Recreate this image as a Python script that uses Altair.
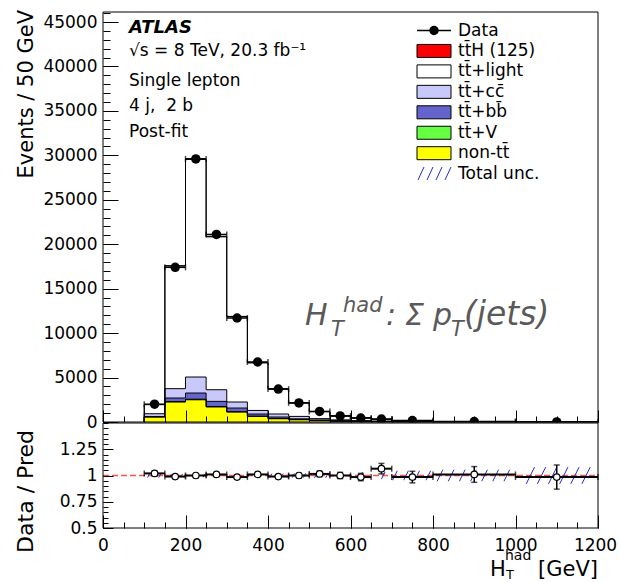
import math
import altair as alt
import numpy as np
import pandas as pd

# ---------------- values ----------------
bin_edges = [100, 150, 200, 250, 300, 350, 400, 450, 500, 550, 600, 650, 700, 800, 1000, 1200]
data_events = [2000, 17400, 29600, 21100, 11700, 6750, 3700, 2150, 1190, 680, 450, 330, 160, 55, 12]

non_tt   = [560, 2250, 2500, 1690, 1120, 630, 370, 260, 160, 100, 65, 45, 25, 9, 2]
tt_V     = [15, 45, 65, 55, 40, 28, 18, 12, 8, 5, 3.5, 2.5, 1.5, 0.6, 0.15]
tt_bb    = [45, 405, 695, 575, 410, 242, 172, 88, 60, 38, 25, 17, 10, 3.5, 0.9]
tt_cc    = [310, 1050, 1800, 1310, 680, 400, 340, 270, 150, 95, 60, 40, 22, 8, 2]
tt_light = [1025, 13800, 24480, 17200, 9590, 5350, 2820, 1510, 785, 437, 300, 203, 102, 33, 7]
ttH      = [5, 30, 60, 55, 40, 28, 18, 12, 8, 5, 3.5, 2.5, 1.5, 0.6, 0.2]

ratio_vals = [1.02, 0.99, 1.0, 1.01, 0.985, 1.01, 0.99, 1.0, 1.015, 1.0, 0.985, 1.065, 0.985, 1.01, 0.985]
ratio_errs = [0.022, 0.008, 0.006, 0.007, 0.009, 0.012, 0.016, 0.02, 0.026, 0.03, 0.035, 0.05, 0.055, 0.075, 0.115]
unc_half   = [0.02, 0.015, 0.015, 0.015, 0.015, 0.015, 0.018, 0.02, 0.022, 0.025, 0.032, 0.035, 0.045, 0.055, 0.08]

comp_names  = ["non-tt\u0304", "tt\u0304+V", "tt\u0304+bb\u0304", "tt\u0304+cc\u0304", "tt\u0304+light", "tt\u0304H (125)"]
comp_values = [non_tt, tt_V, tt_bb, tt_cc, tt_light, ttH]
comp_colors = ["#FFFF00", "#66FF44", "#6464CD", "#C8C8FA", "#FFFFFF", "#FF0000"]

legend_labels = ["Data", "tt\u0304H (125)", "tt\u0304+light", "tt\u0304+cc\u0304", "tt\u0304+bb\u0304",
                 "tt\u0304+V", "non-tt\u0304", "Total unc."]
legend_colors = ["#FF0000", "#FFFFFF", "#C8C8FA", "#6464CD", "#66FF44", "#FFFF00"]

x_major = [0, 200, 400, 600, 800, 1000, 1200]
x_minor = list(range(0, 1201, 50))
ytop_major = list(range(0, 45001, 5000))
ytop_minor = list(range(0, 46001, 1000))
yrat_major = [0.5, 0.75, 1.0, 1.25]
yrat_minor = [round(0.5 + 0.05 * i, 2) for i in range(21)]

FONT = "DejaVu Sans"
W = 495            # plot width (page x 103 .. 598)
TOP_B = 410        # bottom of the main pad (page y 422)
RAT_T = 411        # top of the ratio pad
RAT_B = 516        # bottom of the ratio pad (page y 528)

# ---------------- tables ----------------
nb = len(data_events)
lo = bin_edges[:-1]
hi = bin_edges[1:]
centers = [(a + b) / 2 for a, b in zip(lo, hi)]

stack_rows, outline_rows = [], []
cum = np.zeros(nb)
for name, vals, col in zip(comp_names, comp_values, comp_colors):
    base = cum.copy()
    cum = cum + np.array(vals, dtype=float)
    for i in range(nb):
        stack_rows.append(dict(comp=name, lo=lo[i], hi=hi[i], y0=base[i], y1=cum[i], color=col))
    pts = [(bin_edges[0], 0.0)] + [(bin_edges[i], cum[i]) for i in range(nb)] + \
          [(bin_edges[-1], cum[-1]), (bin_edges[-1], 0.0)]
    for k, (xx, yy) in enumerate(pts):
        outline_rows.append(dict(comp=name, k=k, x=xx, y=yy))
stack_df = pd.DataFrame(stack_rows)
outline_df = pd.DataFrame(outline_rows)

pts_df = pd.DataFrame(dict(c=centers, lo=lo, hi=hi, y=data_events))
caps_df = pd.DataFrame(dict(x=list(lo) + list(hi), y=data_events + data_events))

rat_df = pd.DataFrame(dict(c=centers, lo=lo, hi=hi, r=ratio_vals, e=ratio_errs))
rat_df["rlo"] = rat_df["r"] - rat_df["e"]
rat_df["rhi"] = rat_df["r"] + rat_df["e"]
rcaps_h = pd.DataFrame(dict(x=list(lo) + list(hi), y=ratio_vals + ratio_vals))
rcaps_v = pd.DataFrame(dict(x=centers + centers,
                            y=list(rat_df["rlo"]) + list(rat_df["rhi"])))

hatch_rows = []
spacing = 27.0
for i in range(nb):
    u = unc_half[i]
    d = 252.0 * u
    p = math.ceil(lo[i] / spacing) * spacing
    while p + d <= hi[i]:
        hatch_rows.append(dict(x=p, x2=p + d, y=1 - u, y2=1 + u))
        p += spacing
hatch_df = pd.DataFrame(hatch_rows)

one = pd.DataFrame({"a": [0]})
one_t = pd.DataFrame({"a": [0], "b": [20000]})
one_r = pd.DataFrame({"a": [0], "b": [1.0]})

# ---------------- scales / encodings ----------------
XS = alt.Scale(domain=[0, 1200], nice=False, zero=False)
YT = alt.Scale(domain=[0, 46125], range=[TOP_B, 0], nice=False, zero=False)
YR = alt.Scale(domain=[0.5, 1.5], range=[RAT_B, RAT_T], nice=False, zero=False)


def X(f, axis=None):
    return alt.X(f, type="quantitative", scale=XS, axis=axis, title=None)


def Yt(f, axis=None):
    return alt.Y(f, type="quantitative", scale=YT, axis=axis, title=None)


def Yr(f, axis=None):
    return alt.Y(f, type="quantitative", scale=YR, axis=axis, title=None)


def ax(orient, values, size, labels=False, shift=0, **kw):
    return alt.Axis(orient=orient, values=values, tickSize=size, offset=-size - shift,
                    domain=False, grid=False, labels=labels, tickColor="black", tickWidth=1,
                    title=None, zindex=1, labelFont=FONT, labelColor="black", **kw)


def txt(text, x, y, size=17, **kw):
    return alt.Chart(one).mark_text(text=text, align=kw.pop("align", "left"),
                                    baseline=kw.pop("baseline", "alphabetic"),
                                    font=FONT, fontSize=size, color=kw.pop("color", "black"),
                                    **kw).encode(x=alt.value(x), y=alt.value(y))


def frame(y0, y1):
    return alt.Chart(one).mark_rect(fillOpacity=0, stroke="black", strokeWidth=1).encode(
        x=alt.value(0), x2=alt.value(W), y=alt.value(y0), y2=alt.value(y1))


# ---------------- main pad ----------------
fills = alt.Chart(stack_df).mark_rect(strokeWidth=0).encode(
    x=X("lo"), x2="hi", y=Yt("y0"), y2="y1", color=alt.Color("color:N", scale=None))
outlines = alt.Chart(outline_df).mark_line(interpolate="step-after", color="black",
                                           strokeWidth=1).encode(
    x=X("x"), y=Yt("y"), detail="comp:N", order="k:Q")
dbar = alt.Chart(pts_df).mark_rule(color="black", strokeWidth=1.5).encode(
    x=X("lo"), x2="hi", y=Yt("y"))
dcap = alt.Chart(caps_df).mark_tick(orient="vertical", size=6, thickness=1.5,
                                    color="black").encode(x=X("x"), y=Yt("y"))
dpts = alt.Chart(pts_df).mark_circle(size=90, color="black", opacity=1).encode(
    x=X("c"), y=Yt("y"))
# white strip that clips the markers at the pad edge, as ROOT does
mask = alt.Chart(one).mark_rect(color="white", opacity=1).encode(
    x=alt.value(-1), x2=alt.value(W + 6), y=alt.value(TOP_B + 0.5), y2=alt.value(RAT_T + 8))

top_axes_major = alt.Chart(one_t).mark_point(opacity=0, size=1).encode(
    x=X("a", ax("bottom", x_major, 12, shift=RAT_B - TOP_B)),
    y=Yt("b", ax("left", ytop_major, 15, labels=True, labelFontSize=17, labelPadding=6,
                  labelOverlap=False, format="d")))
top_axes_minor = alt.Chart(one_t).mark_point(opacity=0, size=1).encode(
    x=X("a", ax("bottom", x_minor, 6, shift=RAT_B - TOP_B)),
    y=Yt("b", ax("left", ytop_minor, 7)))

anchor = alt.Chart(one).mark_rule(strokeOpacity=0, strokeWidth=0.1).encode(
    x=alt.value(-103), y=alt.value(-12), y2=alt.value(-11))

# legend
leg_df = pd.DataFrame({"label": legend_labels, "i": list(range(len(legend_labels)))})
leg_text = alt.Chart(leg_df).mark_text(align="left", baseline="middle", font=FONT, fontSize=17,
                                       color="black").transform_calculate(
    py="18.5 + 20.45 * datum.i").encode(
    x=alt.value(355), y=alt.Y("py:Q", scale=None, axis=None), text="label:N")
box_df = pd.DataFrame({"color": legend_colors, "i": list(range(1, 7))})
leg_box = alt.Chart(box_df).mark_rect(stroke="black", strokeWidth=1).transform_calculate(
    y0="12.0 + 20.45 * datum.i", y1="25.0 + 20.45 * datum.i").encode(
    x=alt.value(314), x2=alt.value(348),
    y=alt.Y("y0:Q", scale=None, axis=None), y2="y1:Q",
    color=alt.Color("color:N", scale=None))
leg_line = alt.Chart(one).mark_rule(color="black", strokeWidth=1.5).encode(
    x=alt.value(314), x2=alt.value(348), y=alt.value(18.5))
leg_dot = alt.Chart(one).mark_circle(size=90, color="black", opacity=1).encode(
    x=alt.value(331), y=alt.value(18.5))
leg_hatch_df = pd.DataFrame({"j": [0, 1, 2, 3]})
leg_hatch = alt.Chart(leg_hatch_df).mark_rule(color="#2828D8", strokeWidth=1).transform_calculate(
    hx="315 + 9 * datum.j", hx2="321 + 9 * datum.j").encode(
    x=alt.X("hx:Q", scale=None, axis=None), x2="hx2:Q",
    y=alt.value(168), y2=alt.value(155))

NB = "\u00a0"
top_texts = [
    alt.Chart(one).mark_text(text="ATLAS", align="left", baseline="alphabetic", font=FONT,
                             fontSize=18, fontWeight="bold", fontStyle="italic",
                             color="black").encode(x=alt.value(26), y=alt.value(21)),
    txt("\u221as = 8 TeV, 20.3 fb\u207b\u00b9", 26, 44),
    txt("Single lepton", 26, 74),
    txt("4 j," + NB + NB + "2 b", 26, 99),
    txt("Post-fit", 26, 125),
    txt("Events / 50 GeV", -70, -2, size=21, angle=270, align="right"),
]
GRAY = "#5a5a5a"
anno = [
    txt("H", 202, 313, size=30, fontStyle="italic", color=GRAY),
    txt("T", 228, 324, size=21, fontStyle="italic", color=GRAY),
    txt("had", 240, 300, size=21, fontStyle="italic", color=GRAY),
    txt(":", 283, 313, size=30, fontStyle="italic", color=GRAY),
    txt("\u03a3", 302, 313, size=30, fontStyle="italic", color=GRAY),
    txt("p", 330, 313, size=30, fontStyle="italic", color=GRAY),
    txt("T", 348, 324, size=21, fontStyle="italic", color=GRAY),
    txt("(jets)", 361, 313, size=33, fontStyle="italic", color=GRAY),
]

# ---------------- ratio pad ----------------
line_df = pd.DataFrame({"x0": [0], "x1": [1200], "y": [1.0]})
ref_line = alt.Chart(line_df).mark_rule(color="#FF3030", strokeDash=[6, 3], strokeWidth=1.5,
                                        opacity=0.85).encode(
    x=X("x0"), x2="x1", y=Yr("y"))
hatch = alt.Chart(hatch_df).mark_rule(color="#2828D8", strokeWidth=1).encode(
    x=X("x"), x2="x2", y=Yr("y"), y2="y2")
rbar = alt.Chart(rat_df).mark_rule(color="black", strokeWidth=2).encode(
    x=X("lo"), x2="hi", y=Yr("r"))
rcap_h = alt.Chart(rcaps_h).mark_tick(orient="vertical", size=6, thickness=1.5,
                                      color="black").encode(x=X("x"), y=Yr("y"))
rvbar = alt.Chart(rat_df).mark_rule(color="black", strokeWidth=1.5).encode(
    x=X("c"), y=Yr("rlo"), y2="rhi")
rcap_v = alt.Chart(rcaps_v).mark_tick(orient="horizontal", size=6, thickness=1.5,
                                      color="black").encode(x=X("x"), y=Yr("y"))
rpts = alt.Chart(rat_df).mark_circle(size=42, fill="white", stroke="black", strokeWidth=1.2,
                                     opacity=1).encode(x=X("c"), y=Yr("r"))

rat_axes_major = alt.Chart(one_r).mark_point(opacity=0, size=1).encode(
    x=X("a", ax("bottom", x_major, 13, labels=True, labelFontSize=17, labelPadding=9,
                labelFlush=False, labelOverlap=False, format="d",
                labelOffset={"condition": {"test": "datum.value == 1200", "value": -3},
                             "value": 0})),
    y=Yr("b", ax("left", yrat_major, 10, labels=True, labelFontSize=17, labelPadding=6,
                 labelOverlap=False, labelExpr="'' + datum.value")))
rat_axes_minor = alt.Chart(one_r).mark_point(opacity=0, size=1).encode(
    x=X("a", ax("bottom", x_minor, 6)),
    y=Yr("b", ax("left", yrat_minor, 5)))

R0 = 412
rat_texts = [
    txt("Data / Pred", -70, R0 + 6, size=22, angle=270, align="right"),
    txt("H", 387, R0 + 152, size=21),
    txt("had", 402, R0 + 136, size=14),
    txt("T", 403, R0 + 155, size=13),
    txt("[GeV]", 495, R0 + 152, size=21, align="right"),
]

chart = alt.layer(
    fills, outlines, dbar, dcap, dpts, mask,
    ref_line, hatch, rbar, rcap_h, rvbar, rcap_v, rpts,
    frame(0, TOP_B), frame(RAT_T, RAT_B),
    top_axes_major, top_axes_minor, rat_axes_major, rat_axes_minor, anchor,
    leg_box, leg_line, leg_dot, leg_hatch, leg_text,
    *top_texts, *anno, *rat_texts,
).resolve_scale(y="independent").resolve_axis(x="independent", y="independent").properties(
    width=W, height=RAT_B, padding=0, background="white",
).configure(font=FONT).configure_view(stroke=None)

chart.save("out.html", embed_options={"renderer": "svg", "actions": False})
